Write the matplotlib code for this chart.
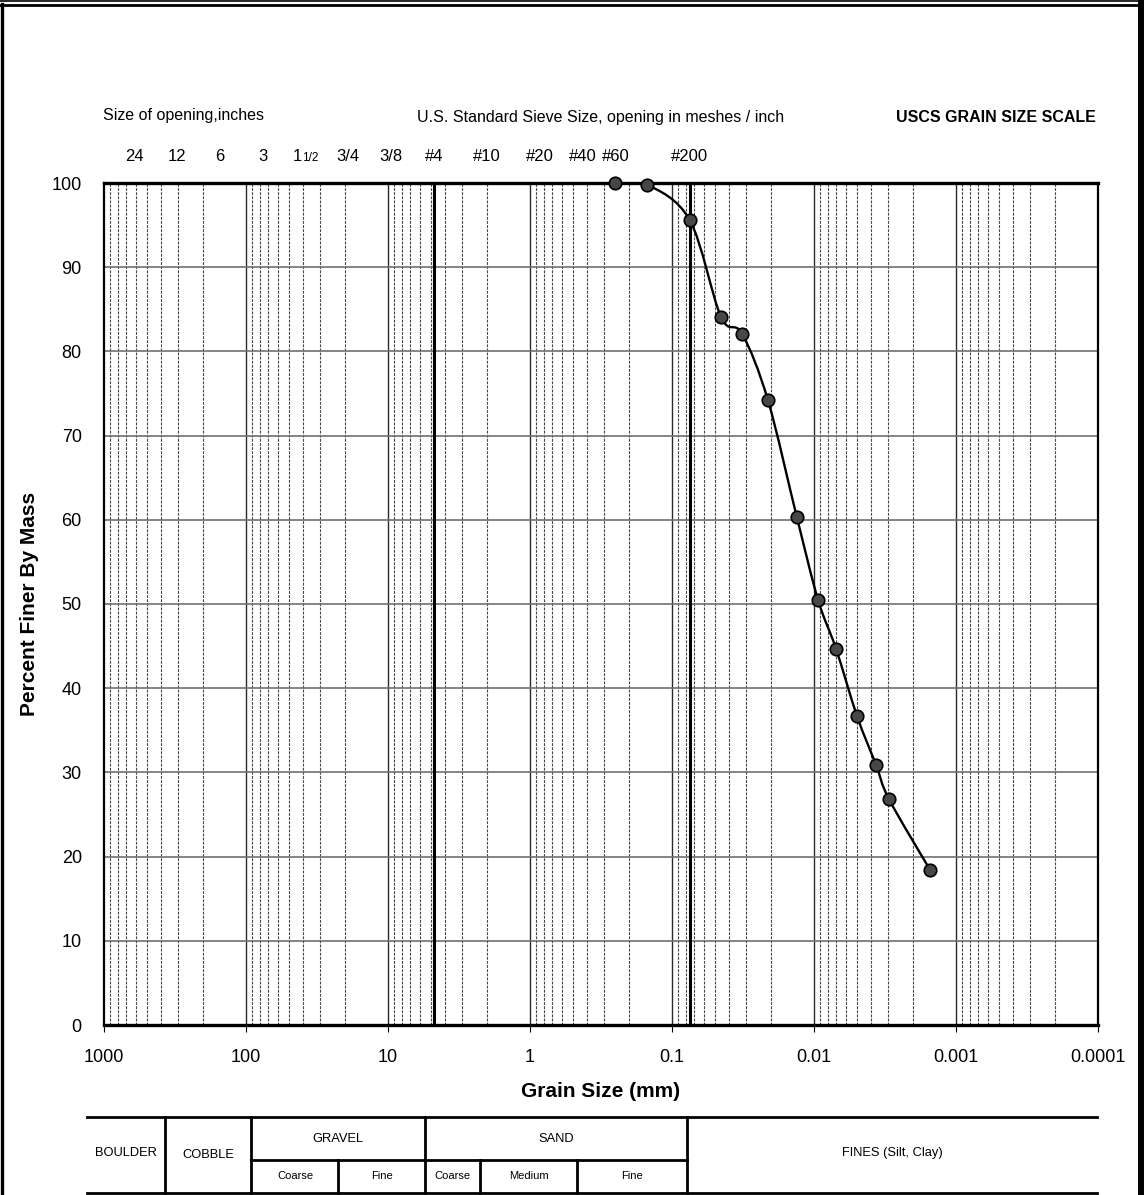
import numpy as np
import matplotlib
matplotlib.use('Agg')
import matplotlib.pyplot as plt
from matplotlib.path import Path
from matplotlib.patches import PathPatch
from matplotlib.transforms import blended_transform_factory, offset_copy

plt.rcParams['font.family'] = ['Liberation Sans', 'DejaVu Sans']

# grain size distribution (hydrometer + sieve)
grain_mm = [0.25, 0.15, 0.075, 0.0452, 0.0321, 0.0211, 0.0132, 0.00937,
            0.0070, 0.00498, 0.00366, 0.00296, 0.00152]
pct_finer = [100.0, 99.8, 95.6, 84.1, 82.1, 74.2, 60.3, 50.5,
             44.7, 36.7, 30.9, 26.8, 18.4]

# sieve / opening labels along the top
sieve_labels = ['24', '12', '6', '3', '1', '3/4', '3/8', '#4', '#10', '#20', '#40', '#60', '#200']
sieve_mm = [609.6, 304.8, 152.4, 76.2, 38.1, 19.05, 9.525, 4.75, 2.0, 0.85, 0.425, 0.25, 0.075]

x_ticks = [1000, 100, 10, 1, 0.1, 0.01, 0.001, 0.0001]
x_ticklabels = ['1000', '100', '10', '1', '0.1', '0.01', '0.001', '0.0001']
y_ticks = list(range(0, 101, 10))

# USCS classification bar
main_classes = ['BOULDER', 'COBBLE', 'GRAVEL', 'SAND', 'FINES (Silt, Clay)']
sub_classes = ['Coarse', 'Fine', 'Coarse', 'Medium', 'Fine']

W, H = 1144, 1195
fig = plt.figure(figsize=(W / 100, H / 100), dpi=100)

# main axes (pixel box 104..1098, 183..1025)
ax = fig.add_axes([104 / W, 1 - 1025 / H, 994 / W, 842 / H])
ax.set_xscale('log')
ax.set_xlim(1000, 0.0001)
ax.set_ylim(0, 100)

# grid
for d in range(-4, 3):
    for m in range(2, 10):
        ax.axvline(m * 10.0 ** d, color='#444444', lw=0.8, ls=(0, (2.5, 1.2)), zorder=1)
for d in range(-3, 3):
    ax.axvline(10.0 ** d, color='#2a2a2a', lw=1.0, zorder=1)
for y in y_ticks[1:-1]:
    ax.axhline(y, color='#707070', lw=1.2, zorder=1)
# #4 and #200 boundaries
for s in (4.75, 0.075):
    ax.axvline(s, color='black', lw=2.2, zorder=2)

for sp in ax.spines.values():
    sp.set_linewidth(1.6)
    sp.set_color('black')
ax.spines['top'].set_linewidth(2.4)
ax.spines['bottom'].set_linewidth(2.4)

ax.set_xticks(x_ticks)
ax.set_xticklabels(x_ticklabels)
ax.xaxis.set_minor_locator(matplotlib.ticker.NullLocator())
ax.set_yticks(y_ticks)
ax.tick_params(axis='x', direction='out', length=5, width=0.8, pad=12, labelsize=13)
ax.tick_params(axis='y', length=0, pad=16, labelsize=13)
ax.set_xlabel('Grain Size (mm)', fontsize=15, fontweight='bold', labelpad=12)
ax.set_ylabel('Percent Finer By Mass', fontsize=15, fontweight='bold', labelpad=9)

# smoothed curve (Catmull-Rom as Bezier in log-x space)
lx = np.log10(grain_mm)
py = np.array(pct_finer)
pts = np.column_stack([lx, py])
verts = [pts[0]]
codes = [Path.MOVETO]
n = len(pts)
for i in range(n - 1):
    p0 = pts[max(i - 1, 0)]
    p1 = pts[i]
    p2 = pts[i + 1]
    p3 = pts[min(i + 2, n - 1)]
    c1 = p1 + (p2 - p0) / 6.0
    c2 = p2 - (p3 - p1) / 6.0
    verts += [c1, c2, p2]
    codes += [Path.CURVE4] * 3
verts = np.array(verts)
verts[:, 0] = 10 ** verts[:, 0]
curve = PathPatch(Path(verts, codes), facecolor='none', edgecolor='black', lw=1.7, zorder=4)
ax.add_patch(curve)
ax.plot(grain_mm, pct_finer, ls='none', marker='o', ms=9, mfc='#474747', mec='black', mew=1.2,
        zorder=5, clip_on=False)

# overlay in pixel coordinates for header, table and border
fr = fig.add_axes([0, 0, 1, 1], zorder=10)
fr.set_xlim(0, W)
fr.set_ylim(H, 0)
fr.axis('off')

fr.text(103, 115, 'Size of opening,inches', fontsize=11.5, va='center', ha='left')
fr.text(601, 117, 'U.S. Standard Sieve Size, opening in meshes / inch', fontsize=11.5, va='center', ha='center')
fr.text(1096, 117, 'USCS GRAIN SIZE SCALE', fontsize=11.5, fontweight='bold', va='center', ha='right')

tr = blended_transform_factory(ax.transData, fr.transData)
for lab, s in zip(sieve_labels, sieve_mm):
    if lab == '1':
        fr.text(s, 156, '1', fontsize=12, ha='right', va='center',
                transform=offset_copy(tr, fig=fig, x=-2.5, y=0, units='points'))
        fr.text(s, 157.5, '1/2', fontsize=8.5, ha='left', va='center',
                transform=offset_copy(tr, fig=fig, x=-2.5, y=0, units='points'))
    else:
        fr.text(s, 156, lab, fontsize=12, ha='center', va='center', transform=tr)

# classification table
lw_t = 2.0
fr.plot([87, 1097], [1117, 1117], color='black', lw=lw_t)
fr.plot([87, 1097], [1193, 1193], color='black', lw=lw_t)
fr.plot([251, 687], [1160, 1160], color='black', lw=lw_t)
for xv in (165, 251, 425, 687):
    fr.plot([xv, xv], [1117, 1193], color='black', lw=lw_t)
for xv in (338, 480, 577):
    fr.plot([xv, xv], [1160, 1193], color='black', lw=lw_t)

main_pos = [(126, 1153), (208, 1155), (338, 1139), (556, 1139), (892, 1153)]
for lab, (xp, yp) in zip(main_classes, main_pos):
    fr.text(xp, yp, lab, fontsize=9.3, ha='center', va='center')
sub_x = [295, 382, 452, 529, 632]
for lab, xp in zip(sub_classes, sub_x):
    fr.text(xp, 1176, lab, fontsize=8, ha='center', va='center')

# page border
fr.plot([0, W], [1, 1], color='black', lw=1.2, clip_on=False)
fr.plot([0, W], [4.5, 4.5], color='black', lw=2.0, clip_on=False)
fr.plot([2, 2], [4, H], color='black', lw=2.4, clip_on=False)
fr.plot([1140.5, 1140.5], [0, H], color='black', lw=5, clip_on=False)

fig.savefig('out.png', dpi=100)
